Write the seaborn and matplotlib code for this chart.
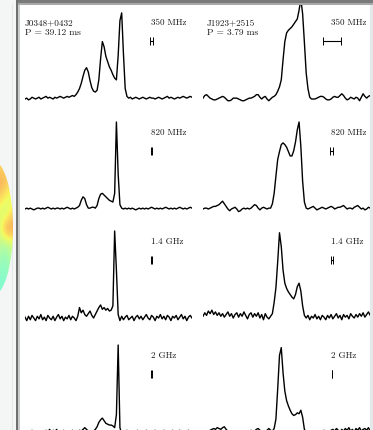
import numpy as np
import pandas as pd
import matplotlib
matplotlib.use("Agg")
import matplotlib.pyplot as plt
import seaborn as sns
from matplotlib.patches import Rectangle, Ellipse

# ---------------- data ----------------
pulsars = ["J0348+0432", "J1923+2515"]
periods = ["P = 39.12 ms", "P = 3.79 ms"]
bands = ["350 MHz", "820 MHz", "1.4 GHz", "2 GHz"]

j0348_350 = [0.00, 0.01, -0.01, 0.00, 0.02, 0.01, 0.00, 0.01, 0.02, 0.00,
             0.01, 0.02, 0.03, 0.01, 0.02, 0.01, 0.00, 0.02, 0.01, 0.02,
             0.03, 0.02, 0.01, 0.02, 0.03, 0.02, 0.03, 0.04, 0.03,
             0.05, 0.08, 0.12, 0.18, 0.26, 0.33, 0.36, 0.31, 0.21, 0.13,
             0.09, 0.08, 0.10, 0.22, 0.46, 0.66, 0.60, 0.49, 0.43, 0.37,
             0.33, 0.28, 0.24, 0.22, 0.50, 0.90, 0.99, 0.52, 0.12, 0.03,
             0.01, 0.02, 0.00, 0.01, 0.02, 0.01, 0.00, 0.01, 0.02, 0.01,
             0.00, 0.01, 0.02, 0.01, 0.01, 0.00, 0.01, 0.02, 0.01, 0.00,
             0.01, 0.02, 0.03, 0.01, 0.02, 0.01, 0.00, 0.01, 0.02, 0.01,
             0.02, 0.03, 0.02, 0.01, 0.02, 0.03, 0.02]

j0348_820 = [0.00, 0.01, 0.00, 0.01, 0.00, -0.01, 0.00, 0.01, 0.01, 0.00,
             0.01, 0.00, 0.01, 0.02, 0.01, 0.00, 0.01, 0.00, 0.01, 0.01,
             0.00, 0.01, 0.00, 0.01, 0.02, 0.01, 0.00, 0.01, 0.00, 0.01, 0.02,
             0.04, 0.10, 0.14, 0.12, 0.05, 0.01, 0.01, 0.02, 0.02, 0.01,
             0.04, 0.12, 0.17, 0.18, 0.16, 0.14, 0.12, 0.10, 0.09, 0.08,
             0.18, 1.00, 0.40, 0.05, 0.01,
             0.00, 0.01, 0.00, 0.01, 0.00, 0.01, 0.00, -0.01, 0.00, 0.01,
             0.00, 0.01, 0.00, 0.01, 0.00, 0.01, 0.02, 0.01, 0.00, 0.01,
             0.00, 0.01, 0.00, 0.01, 0.02, 0.01, 0.00, 0.01, 0.00, 0.01,
             0.00, 0.01, 0.02, 0.01, 0.00, 0.01, 0.00, 0.01, 0.02, 0.01]

j0348_1400 = [0.01, -0.03, 0.02, -0.02, 0.03, 0.00, -0.03, 0.02, -0.01, 0.04,
              -0.02, 0.01, -0.03, 0.03, 0.00, -0.02, 0.02, -0.03, 0.01, 0.04,
              -0.01, 0.02, -0.03, 0.01, -0.01, 0.03, -0.02, 0.02, 0.00, -0.03, 0.02,
              0.12, 0.06, 0.09, 0.04, 0.02, 0.05, 0.08, 0.03, 0.00, 0.04,
              0.08, 0.12, 0.15, 0.10, 0.12, 0.09, 0.11, 0.08, 0.09, 0.14,
              1.00, 0.55, 0.04,
              -0.03, 0.02, -0.02, 0.01, 0.03, -0.02, 0.00, 0.02, -0.03, 0.01,
              0.03, -0.01, 0.02, -0.02, 0.01, 0.04, 0.00, -0.02, 0.03, 0.01,
              -0.03, 0.02, 0.00, 0.04, -0.01, 0.02, -0.02, 0.03, 0.01, -0.03,
              0.02, 0.00, 0.03, -0.02, 0.01, 0.04, -0.01, 0.02, -0.03, 0.01,
              0.03, 0.00]

j0348_2000 = [0.00, -0.02, 0.01, -0.01, 0.02, -0.02, 0.00, 0.01, -0.02, 0.01,
              0.00, -0.01, 0.02, 0.00, 0.03, -0.01, 0.02, 0.00, 0.03, -0.02,
              0.01, -0.01, 0.02, 0.00, -0.02, 0.01, 0.00, 0.02, -0.01, 0.01,
              0.00, 0.02, 0.01, 0.03, 0.05, 0.03, 0.01, -0.01, 0.00,
              0.01, 0.03, 0.06, 0.11, 0.14, 0.16, 0.13, 0.10, 0.09, 0.08,
              0.08, 0.07, 0.05, 0.20, 1.00, 0.05,
              -0.02, 0.01, -0.01, 0.02, 0.00, -0.02, 0.01, 0.00, -0.01, 0.02,
              -0.02, 0.00, 0.01, -0.01, 0.02, 0.00, -0.02, 0.01, 0.00, 0.02,
              -0.01, 0.01, -0.02, 0.00, 0.02, -0.01, 0.01, 0.00, -0.02, 0.02,
              0.00, -0.01, 0.01, 0.02, -0.02, 0.00, 0.01, -0.01, 0.02, 0.00,
              0.01]

j1923_350 = [0.01, 0.04, 0.05, 0.03, 0.01, 0.00, -0.01, -0.01, 0.00, 0.01,
             0.02, 0.03, 0.02, 0.00, -0.02, -0.02, -0.01, 0.01, 0.01, 0.01,
             0.00, -0.01, -0.02, -0.02, -0.01, 0.00, 0.01, 0.01, 0.02, 0.03,
             0.05, 0.05, 0.02, 0.00, 0.02, 0.03, 0.00, -0.02, 0.00, 0.02,
             0.03, 0.05, 0.09, 0.14, 0.22, 0.45, 0.66, 0.76, 0.79, 0.81,
             0.83, 0.86, 0.89, 0.92, 1.02, 1.15, 0.98, 0.65, 0.30, 0.12,
             0.02, 0.00, 0.00, 0.00, 0.01, 0.02, 0.03, 0.03, 0.02, 0.00,
             -0.01, -0.01, 0.00, 0.02, 0.03, 0.02, 0.02, 0.04, 0.06, 0.04,
             0.01, -0.01, 0.00, 0.02, 0.01, 0.00, 0.02, 0.01, -0.02, 0.02,
             0.06, 0.03, 0.01, 0.03, 0.04, 0.02]

j1923_820 = [0.00, 0.01, 0.01, 0.00, 0.01, 0.02, 0.03, 0.03, 0.04, 0.05,
             0.07, 0.09, 0.06, 0.03, 0.00, -0.02, 0.00, 0.01, 0.02, 0.00,
             -0.03, -0.02, 0.00, 0.01, 0.00, 0.01, 0.00, 0.01, 0.03, 0.05,
             0.04, 0.01, -0.01, 0.01, 0.02, 0.01, 0.00, 0.01,
             0.01, 0.06, 0.18, 0.38, 0.57, 0.66, 0.74, 0.76, 0.74, 0.71,
             0.66, 0.61, 0.61, 0.67, 0.77, 0.91, 1.00, 0.72, 0.32, 0.08, 0.01,
             0.00, 0.01, 0.02, 0.03, 0.01, -0.01, 0.00, 0.01, 0.02, 0.01,
             0.00, 0.01, 0.02, 0.03, 0.02, 0.00, 0.01, 0.02, 0.02, 0.03,
             0.04, 0.02, 0.00, 0.01, 0.01, 0.00, 0.02, 0.03, 0.04, 0.02,
             0.00, 0.01, -0.01, 0.00, 0.02, 0.01, 0.02]

j1923_1400 = [0.02, 0.06, 0.03, 0.08, 0.05, 0.09, 0.04, 0.07, 0.03, 0.06,
              0.02, 0.05, 0.01, 0.04, 0.07, 0.02, 0.05, 0.00, 0.04, 0.06,
              0.01, 0.05, 0.02, 0.07, 0.03, -0.01, 0.04, 0.06, 0.01, 0.05,
              0.02, 0.06, 0.00, 0.04, -0.02, 0.05, 0.01, -0.01, 0.02,
              0.05, 0.18, 0.35, 0.65, 0.98, 0.82, 0.55, 0.40, 0.34, 0.30,
              0.27, 0.24, 0.22, 0.27, 0.36, 0.40, 0.31, 0.14, 0.03,
              0.00, 0.03, -0.02, 0.02, 0.00, 0.04, -0.01, 0.02, -0.02, 0.03,
              0.01, -0.02, 0.03, 0.00, 0.04, -0.01, 0.02, 0.05, 0.00, 0.03,
              -0.02, 0.04, 0.01, 0.03, -0.01, 0.05, 0.02, 0.00, 0.04, 0.01,
              0.05, 0.02, 0.06, 0.01, 0.04, 0.07, 0.03, 0.05]

j1923_2000 = [0.00, -0.02, 0.01, 0.00, 0.02, 0.03, 0.04, 0.03, 0.05, 0.04,
              0.03, 0.05, 0.06, 0.03, 0.01, -0.01, 0.00, -0.02, 0.01, 0.00,
              -0.01, 0.01, -0.02, 0.00, 0.01, -0.01, 0.00, 0.02, 0.00, 0.01,
              0.03, 0.04, 0.02, 0.00, -0.01, 0.01, 0.02, 0.04, 0.02, 0.01,
              0.04, 0.15, 0.50, 0.88, 0.97, 0.68, 0.47, 0.36, 0.30, 0.25,
              0.21, 0.19, 0.20, 0.22, 0.21, 0.25, 0.17, 0.03,
              0.00, -0.02, 0.01, -0.01, 0.00, 0.01, -0.02, 0.00, 0.01, -0.01,
              0.02, 0.00, -0.01, 0.01, 0.02, 0.03, 0.01, 0.04, 0.02, 0.00,
              0.03, 0.01, 0.04, 0.02, 0.05, 0.01, 0.03, 0.00, 0.04, 0.02,
              0.05, 0.01, 0.03, 0.04, 0.02, 0.05, 0.01, 0.03]

profiles = [[j0348_350, j0348_820, j0348_1400, j0348_2000],
            [j1923_350, j1923_820, j1923_1400, j1923_2000]]

# time-resolution bars (half width, in pulse phase)
res_j0348 = [0.009, 0.001, 0.001, 0.001]
res_j1923 = [0.053, 0.009, 0.004, 0.001]
resolutions = [res_j0348, res_j1923]

# decorative sky-map fragment at the left edge (colour levels)
blob_levels = [[0.70, 0.72, 0.74],
               [0.78, 0.74, 0.70],
               [0.70, 0.64, 0.60],
               [0.60, 0.56, 0.70],
               [0.62, 0.82, 0.80],
               [0.54, 0.50, 0.58],
               [0.48, 0.46, 0.52],
               [0.44, 0.44, 0.48],
               [0.42, 0.43, 0.46]]

# ---------------- figure ----------------
W, H = 373, 430
fig = plt.figure(figsize=(W / 100, H / 100), dpi=100)
fig.patch.set_facecolor("white")
FONT = "cmr10"
TXT = "#1a1a1a"


def rect(x0, ytop, w, h):
    return [x0 / W, 1 - (ytop + h) / H, w / W, h / H]


S = 87.0
baselines = [99, 209, 318, 432]
cols = [(25, 167), (203, 169)]
name_x = [0.0, 0.024]
band_x = [0.754, 0.757]
bar_x = [0.757, 0.763]

for c, (x0, w) in enumerate(cols):
    for r, b in enumerate(baselines):
        ax = fig.add_axes(rect(x0, b - 100, w, 108), zorder=5)
        ax.patch.set_alpha(0)
        y = profiles[c][r]
        df = pd.DataFrame({"phase": np.linspace(0, 1, len(y)), "flux": y})
        sns.lineplot(data=df, x="phase", y="flux", ax=ax, color="black",
                     lw=1.0, estimator=None)
        ax.set_xlim(0, 1)
        ax.set_ylim(-8 / S, 100 / S)
        ax.axis("off")
        ax.text(band_x[c], 0.845, bands[r], fontsize=6.5, family=FONT,
                color=TXT, ha="left", va="baseline")
        ax.errorbar([bar_x[c]], [0.665], xerr=[resolutions[c][r]], fmt="none",
                    ecolor="black", elinewidth=0.8, capsize=3.0, capthick=0.7)
        if r == 0:
            ax.text(name_x[c], 0.85, pulsars[c], fontsize=6.6, family=FONT,
                    color=TXT, ha="left", va="baseline")
            ax.text(name_x[c], 0.735, periods[c], fontsize=6.8, family=FONT,
                    color=TXT, ha="left", va="baseline")

# ---------------- slide decorations ----------------
ov = fig.add_axes([0, 0, 1, 1], zorder=20)
ov.patch.set_alpha(0)
ov.set_xlim(0, W)
ov.set_ylim(H, 0)
ov.axis("off")

ov.add_patch(Rectangle((0, 0), 15.5, H, color="#f4f6f6", lw=0, zorder=1))
ov.add_patch(Rectangle((12, 4), 1, H, color="#e3e7e7", lw=0, zorder=1))
im = ov.imshow(np.array(blob_levels), cmap="jet", vmin=0, vmax=1,
               extent=(-2, 14, 298, 160), interpolation="bicubic", alpha=0.62,
               aspect="auto", zorder=2)
clip = Ellipse((-7.5, 228), 41, 136, transform=ov.transData)
im.set_clip_path(clip)
ov.add_patch(Rectangle((15.5, 0), 2.6, H, color="#707070", lw=0, zorder=3))
ov.add_patch(Rectangle((18.1, 0), 1.8, H, color="#c8cccc", lw=0, zorder=3))
ov.add_patch(Rectangle((18.1, 0), W, 3, color="#7a7a7a", lw=0, zorder=3))
ov.add_patch(Rectangle((18.1, 3), W, 2, color="#a8aaaa", lw=0, zorder=3))
ov.add_patch(Rectangle((369.5, 5), 4, H, color="#e4e8e8", lw=0, zorder=3))
ov.set_xlim(0, W)
ov.set_ylim(H, 0)

fig.savefig("out.png", dpi=100)
